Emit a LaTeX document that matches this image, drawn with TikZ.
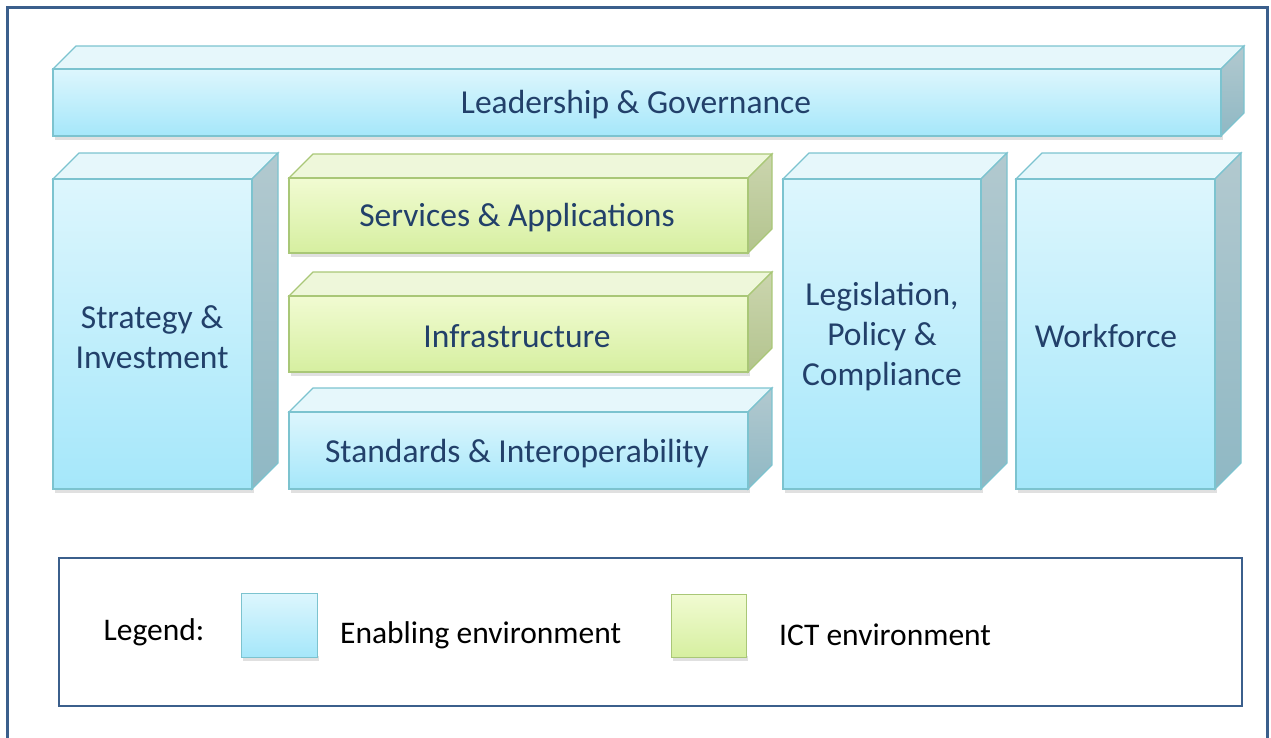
\documentclass[tikz,border=0pt]{standalone}
\usepackage{fontspec}
\setmainfont{Carlito}
\definecolor{framec}{HTML}{3B5F8C}
\definecolor{txtc}{HTML}{22406A}
\definecolor{bedge}{HTML}{7CC3CF}
\definecolor{bfronttop}{HTML}{DDF6FD}
\definecolor{bfrontbot}{HTML}{A5E7FA}
\definecolor{btop}{HTML}{E6F7FB}
\definecolor{bsidetop}{HTML}{B2C9CF}
\definecolor{bsidebot}{HTML}{8FB8C4}
\definecolor{gedge}{HTML}{A9C777}
\definecolor{gfronttop}{HTML}{F1FBD2}
\definecolor{gfrontbot}{HTML}{D6EFA0}
\definecolor{gtop}{HTML}{EEF7DA}
\definecolor{gsidetop}{HTML}{CBD5AE}
\definecolor{gsidebot}{HTML}{B3C48E}
\tikzset{
  bluefront/.style={draw=bedge,line width=1.2pt,top color=bfronttop,bottom color=bfrontbot},
  bluetop/.style={draw=bedge,line width=1.2pt,fill=btop},
  blueside/.style={draw=bedge,line width=1.2pt,top color=bsidetop,bottom color=bsidebot},
  greenfront/.style={draw=gedge,line width=1.2pt,top color=gfronttop,bottom color=gfrontbot},
  greentop/.style={draw=gedge,line width=1.2pt,fill=gtop},
  greenside/.style={draw=gedge,line width=1.2pt,top color=gsidetop,bottom color=gsidebot},
  boxshadow/.style={fill=black,opacity=0.12},
  lbl/.style={text=txtc,font=\fontsize{33.5}{40}\selectfont,align=center,inner sep=0pt},
  leg/.style={text=black,font=\fontsize{31.5}{38}\selectfont,inner sep=0pt},
}
\newcommand\cuboid[6]{%
  \fill[boxshadow] ({#1+2},{#4-1}) rectangle ({#3+2},{#4+4});
  \draw[#6top] (#1,#2) -- ({#1+#5},{#2-#5}) -- ({#3+#5},{#2-#5}) -- (#3,#2) -- cycle;
  \draw[#6side] (#3,#2) -- ({#3+#5},{#2-#5}) -- ({#3+#5},{#4-#5}) -- (#3,#4) -- cycle;
  \draw[#6front] (#1,#2) rectangle (#3,#4);
}
\begin{document}
\begin{tikzpicture}[x=1pt,y=-1pt]
\useasboundingbox (0,0) rectangle (1271,737);
\draw[framec,line width=3pt] (7,7) rectangle (1267,760);
% boxes
\cuboid{53}{69}{1221}{136}{23}{blue}
\cuboid{53}{179}{252}{489}{26}{blue}
\cuboid{289}{178}{748}{253}{24}{green}
\cuboid{289}{296}{748}{372}{24}{green}
\cuboid{289}{412}{748}{489}{24}{blue}
\cuboid{783}{179}{981}{489}{26}{blue}
\cuboid{1016}{179}{1215}{489}{26}{blue}
% labels
\node[lbl] (lead) at (636,105) {Leadership \& Governance};
\node[lbl] (strat) at (152,337) {Strategy \&\\Investment};
\node[lbl] (serv) at (517,218) {Services \& Applications};
\node[lbl] (infra) at (517,336) {Infrastructure};
\node[lbl] (stand) at (517,454) {Standards \& Interoperability};
\node[lbl] (legis) at (882,337) {Legislation,\\Policy \&\\Compliance};
\node[lbl] (work) at (1106,336) {Workforce};
% legend
\draw[framec,line width=2.5pt] (59,558) rectangle (1242,706);
\node[leg] (legend) at (154,632) {Legend:};
\fill[boxshadow] (243,656) rectangle (319,661);
\draw[bluefront,line width=1pt] (241,593) rectangle (317,657);
\node[leg,anchor=west] (enab) at (340,635) {Enabling environment};
\fill[boxshadow] (673,656) rectangle (748,661);
\draw[greenfront,line width=1pt] (671,594) rectangle (746,657);
\node[leg,anchor=west] (ict) at (779,635) {ICT environment};
\end{tikzpicture}
\end{document}
